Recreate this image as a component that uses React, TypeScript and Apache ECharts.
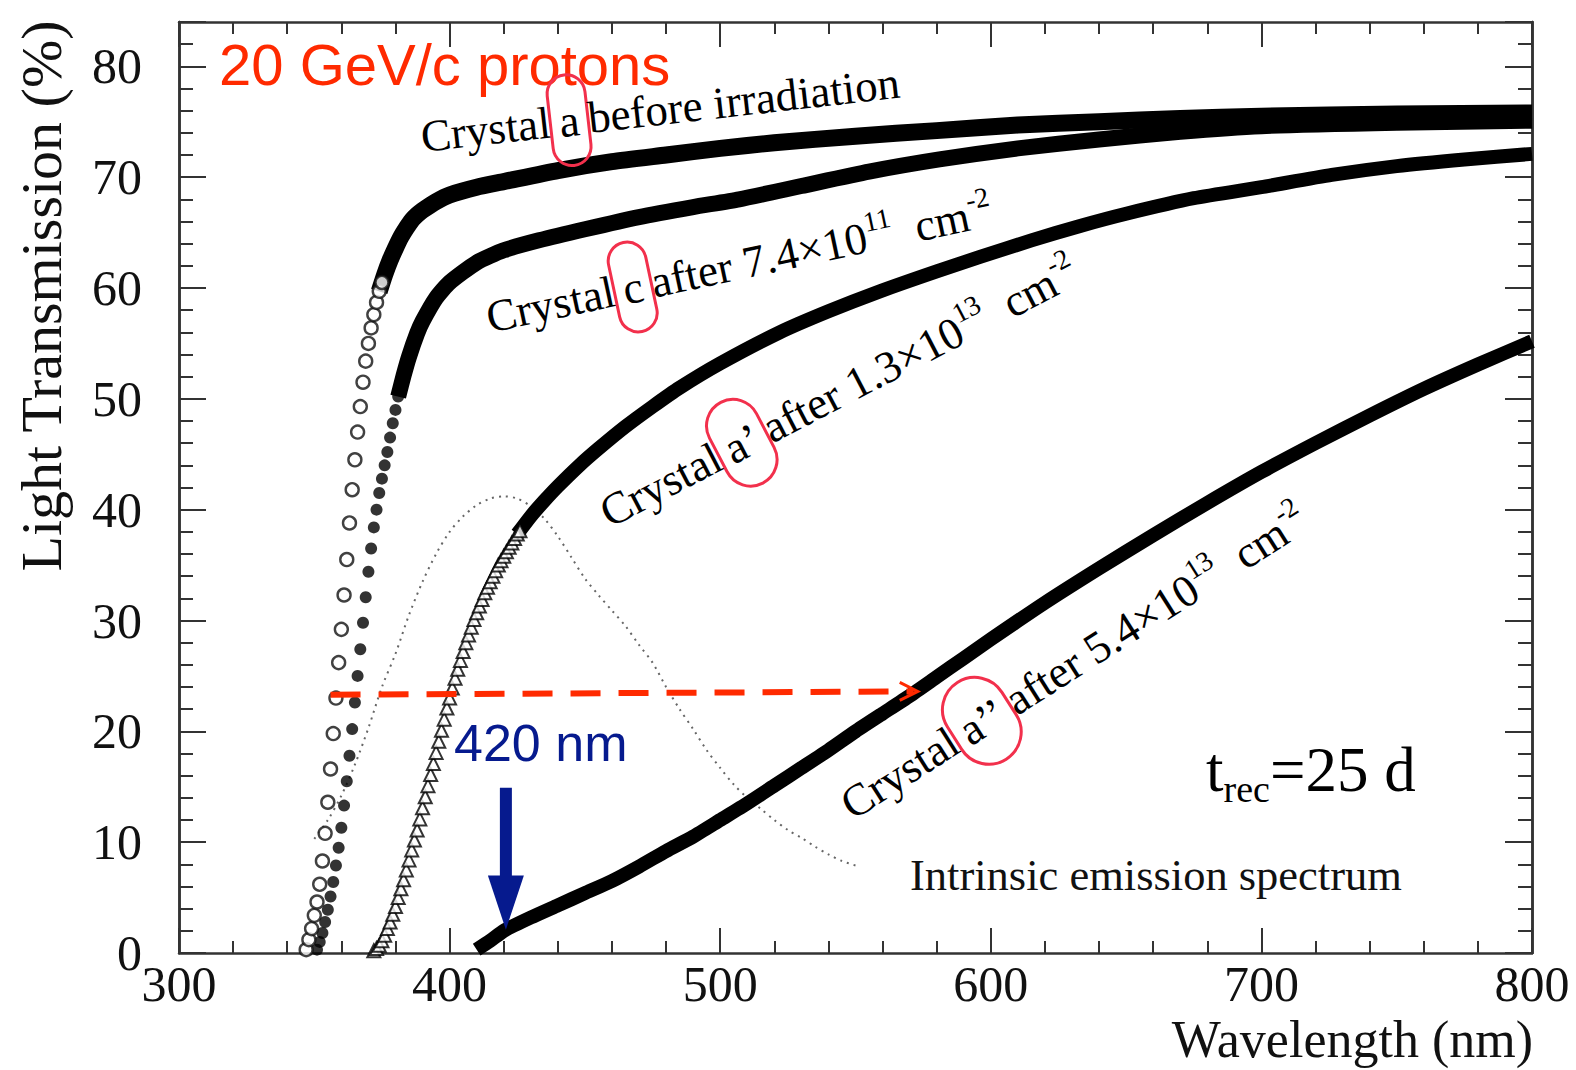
import React, { useEffect, useRef } from "react";
import * as echarts from "echarts";

const SERIF = '"Liberation Serif", "Times New Roman", serif';
const SANS = '"Liberation Sans", Arial, sans-serif';

// ---- axes ----
const xMin = 300;
const xMax = 800;
const xStep = 100;
const yMin = 0;
const yMax = 84;
const yStep = 10;
const yMinorStep = 2;

// ---- Crystal a before irradiation (open circles) ----
const crystalA_rise: [number, number][] = [
  [347, 0.3], [348, 1.2], [349, 2.2], [350, 3.4], [351, 4.6], [352, 6.2], [353, 8.3], [354, 10.8],
  [355, 13.6], [356, 16.6], [357, 19.8], [358, 23.0], [359, 26.2], [360, 29.2], [361, 32.3], [362, 35.5],
  [363, 38.8], [364, 41.8], [365, 44.5], [366, 47.0], [367, 49.3], [368, 51.5], [369, 53.4], [370, 55.0],
  [371, 56.4], [372, 57.6], [373, 58.7], [374, 59.7], [375, 60.5],
];
const crystalA_band: [number, number][] = [
  [374, 59.7], [376, 61.2], [378, 62.5], [380, 63.6], [382, 64.6], [384, 65.4], [386, 66.1], [388, 66.6],
  [390, 67.0], [395, 67.8], [400, 68.4], [410, 69.1], [420, 69.6], [440, 70.6], [460, 71.4], [480, 72.0],
  [500, 72.6], [520, 73.1], [550, 73.7], [580, 74.2], [610, 74.7], [640, 75.0], [670, 75.3], [700, 75.5],
  [750, 75.7], [800, 75.8],
];

// ---- Crystal c after 7.4e11 (filled circles) ----
const crystalC_rise: [number, number][] = [
  [351, 0.3], [352, 1.0], [353, 1.8], [354, 2.8], [355, 3.9], [356, 5.1], [357, 6.4], [358, 7.9],
  [359, 9.5], [360, 11.3], [361, 13.3], [362, 15.5], [363, 17.8], [364, 20.2], [365, 22.6], [366, 25.0],
  [367, 27.4], [368, 29.8], [369, 32.1], [370, 34.4], [371, 36.5], [372, 38.4], [373, 40.0], [374, 41.5],
  [375, 42.8], [376, 44.0], [377, 45.2], [378, 46.5], [379, 47.8], [380, 49.0], [381, 50.2], [382, 51.2],
];
const crystalC_band: [number, number][] = [
  [381, 50.2], [383, 52.1], [385, 53.8], [388, 55.9], [390, 57.0], [395, 59.1], [400, 60.5], [410, 62.3],
  [420, 63.4], [433, 64.3], [450, 65.3], [470, 66.4], [490, 67.3], [507, 68.0], [530, 69.2], [555, 70.5],
  [581, 71.6], [610, 72.6], [640, 73.4], [670, 74.1], [700, 74.6], [750, 74.9], [800, 75.1],
];

// ---- Crystal a' after 1.3e13 (open triangles) ----
const crystalA1_rise: [number, number][] = [
  [372, 0.2], [373, 0.4], [374, 0.7], [375, 1.1], [376, 1.6], [377, 2.2], [378, 2.8], [379, 3.5],
  [380, 4.2], [381, 5.0], [382, 5.8], [383, 6.6], [384, 7.5], [385, 8.4], [386, 9.3], [387, 10.2],
  [388, 11.1], [389, 12.1], [390, 13.1], [391, 14.1], [392, 15.1], [393, 16.1], [394, 17.1], [395, 18.1],
  [396, 19.1], [397, 20.1], [398, 21.1], [399, 22.1], [400, 23.0], [401, 23.9], [402, 24.8], [403, 25.6],
  [404, 26.4], [405, 27.2], [406, 28.0], [407, 28.7], [408, 29.4], [409, 30.1], [410, 30.7], [411, 31.3],
  [412, 31.9], [413, 32.5], [414, 33.0], [415, 33.5], [416, 34.0], [417, 34.5], [418, 35.0], [419, 35.4],
  [420, 35.8], [421, 36.2], [422, 36.6], [423, 37.0], [424, 37.4], [425, 37.8], [426, 38.1],
];
const crystalA1_band: [number, number][] = [
  [425, 37.8], [430, 39.4], [435, 40.8], [440, 42.1], [448, 44.0], [455, 45.5], [465, 47.5], [475, 49.3],
  [485, 51.0], [500, 53.2], [522, 56.0], [540, 57.9], [559, 59.7], [580, 61.5], [596, 62.8], [615, 64.3],
  [633, 65.6], [650, 66.7], [675, 68.1], [700, 69.1], [726, 70.2], [750, 71.0], [775, 71.6], [800, 72.1],
];

// ---- Crystal a'' after 5.4e13 ----
const crystalA2_band: [number, number][] = [
  [410, 0.3], [415, 1.1], [420, 2.0], [430, 3.2], [440, 4.3], [450, 5.4], [460, 6.5], [470, 7.8],
  [480, 9.2], [490, 10.5], [500, 12.0], [510, 13.5], [520, 15.1], [530, 16.7], [540, 18.3], [550, 20.0],
  [560, 21.6], [570, 23.2], [580, 24.9], [590, 26.6], [600, 28.3], [620, 31.6], [640, 34.7], [660, 37.7],
  [680, 40.6], [700, 43.4], [720, 46.0], [740, 48.5], [760, 50.9], [780, 53.1], [800, 55.2],
];

// ---- Intrinsic emission spectrum ----
const emission: [number, number][] = [
  [350, 10.3], [355, 12.0], [360, 14.2], [365, 17.0], [370, 20.3], [375, 24.0], [380, 27.0], [385, 30.5],
  [390, 33.5], [395, 36.0], [400, 38.0], [405, 39.4], [410, 40.4], [415, 41.0], [420, 41.2], [425, 41.0],
  [430, 40.3], [435, 39.2], [440, 37.6], [445, 35.7], [450, 33.8], [455, 32.3], [460, 30.9], [465, 29.5],
  [470, 27.8], [475, 26.2], [480, 24.0], [485, 22.0], [490, 20.2], [495, 18.3], [500, 16.7], [505, 15.2],
  [510, 14.0], [515, 13.0], [520, 12.0], [525, 11.1], [530, 10.4], [535, 9.6], [540, 8.9], [545, 8.3],
  [550, 7.9],
];

// ---- annotation anchors (data coordinates) ----
const dashFrom: [number, number] = [356, 23.3];
const dashTo: [number, number] = [573, 23.6];
const blueArrowTop: [number, number] = [420.8, 14.9];
const blueArrowHeadBase: [number, number] = [420.8, 7.0];
const blueArrowTip: [number, number] = [420.8, 2.1];

const INK = "#111";
const RED = "#ff2a00";
const ELLIPSE = "#f2304c";
const BLUE = "#061a8e";

export default function App() {
  const ref = useRef<HTMLDivElement>(null);

  useEffect(() => {
    const chart = echarts.init(ref.current!, null, { renderer: "svg" });
    const axisLine = { show: true, onZero: false, lineStyle: { color: "#333", width: 2.5 } };
    const tickLine = { color: "#333", width: 2 };

    const xAxis = (position: string, showLabel: boolean) => ({
      type: "value",
      position,
      min: xMin,
      max: xMax,
      interval: xStep,
      axisLine,
      axisTick: { show: true, inside: true, length: 25, lineStyle: tickLine },
      minorTick: { show: true, splitNumber: 5, length: 12, lineStyle: tickLine },
      axisLabel: { show: showLabel, fontFamily: SERIF, fontSize: 50, color: INK, margin: 6 },
      splitLine: { show: false },
      minorSplitLine: { show: false },
    });
    const yAxis = (position: string, interval: number, len: number, showLabel: boolean) => ({
      type: "value",
      position,
      min: yMin,
      max: yMax,
      interval,
      axisLine,
      axisTick: { show: true, inside: true, length: len, lineStyle: tickLine },
      axisLabel: {
        show: showLabel,
        fontFamily: SERIF,
        fontSize: 50,
        color: INK,
        margin: 37,
        padding: [8, 0, 0, 0],
        formatter: (v: number) => (v % yStep === 0 && v <= 80 ? String(v) : ""),
      },
      splitLine: { show: false },
    });

    const band = (name: string, data: [number, number][], width: number) => ({
      name,
      type: "line",
      data,
      showSymbol: false,
      smooth: 0.2,
      lineStyle: { color: "#000", width, cap: "butt", join: "round" },
      xAxisIndex: 0,
      yAxisIndex: 0,
      z: 3,
    });

    chart.setOption({
      animation: false,
      backgroundColor: "#fff",
      grid: { left: 179, right: 44, top: 22, bottom: 117, containLabel: false },
      xAxis: [xAxis("bottom", true), xAxis("top", false)],
      yAxis: [
        yAxis("left", yStep, 27, true),
        yAxis("left", yMinorStep, 14, false),
        yAxis("right", yStep, 27, false),
        yAxis("right", yMinorStep, 14, false),
      ],
      series: [
        {
          name: "Intrinsic emission spectrum",
          type: "line",
          data: emission,
          showSymbol: false,
          smooth: 0.3,
          lineStyle: { color: "#666", width: 2, type: [2, 5] },
          z: 2,
        },
        band("Crystal a'' after 5.4e13", crystalA2_band, 14),
        band("Crystal a' after 1.3e13", crystalA1_band, 14),
        {
          name: "Crystal a' rise",
          type: "scatter",
          data: crystalA1_rise,
          symbol: "triangle",
          symbolSize: 13,
          itemStyle: { color: "#fff", borderColor: "#000", borderWidth: 2 },
          z: 4,
        },
        band("Crystal c after 7.4e11", crystalC_band, 16),
        {
          name: "Crystal c rise",
          type: "scatter",
          data: crystalC_rise,
          symbol: "circle",
          symbolSize: 12,
          itemStyle: { color: "#000" },
          z: 4,
        },
        band("Crystal a before irradiation", crystalA_band, 17),
        {
          name: "Crystal a rise",
          type: "scatter",
          data: crystalA_rise,
          symbol: "circle",
          symbolSize: 13,
          itemStyle: { color: "#fff", borderColor: "#111", borderWidth: 2.4 },
          z: 4,
        },
      ],
    });

    const px = (p: [number, number]) =>
      chart.convertToPixel({ xAxisIndex: 0, yAxisIndex: 0 }, p) as number[];

    const rich = {
      n: { fontFamily: SERIF, fontSize: 45, color: INK, verticalAlign: "middle" },
      e: {
        fontFamily: SERIF,
        fontSize: 45,
        color: INK,
        verticalAlign: "middle",
        borderColor: ELLIPSE,
        borderWidth: 3,
        borderRadius: 40,
        padding: [24, 9, 22, 9],
      },
      s: { fontFamily: SERIF, fontSize: 28, color: INK, verticalAlign: "middle", padding: [0, 0, 30, 0] },
    };
    const deg = (d: number) => (d * Math.PI) / 180;

    const d0 = px(dashFrom);
    const d1 = px(dashTo);
    const bt = px(blueArrowTop);
    const bb = px(blueArrowHeadBase);
    const tip = px(blueArrowTip);

    chart.setOption({
      graphic: [
        {
          type: "text",
          x: 219,
          y: 64,
          style: { text: "20 GeV/c protons", fontFamily: SANS, fontSize: 58, fill: RED, align: "left", verticalAlign: "middle" },
          z: 10,
        },
        {
          type: "text",
          x: 421,
          y: 137,
          rotation: deg(6.5),
          style: { text: "{n|Crystal}{e|a}{n|before irradiation}", rich, align: "left", verticalAlign: "middle" },
          z: 10,
        },
        {
          type: "text",
          x: 487,
          y: 318,
          rotation: deg(12),
          style: { text: "{n|Crystal}{e|c}{n|after 7.4×10}{s|11}{n|  cm}{s|-2}", rich, align: "left", verticalAlign: "middle" },
          z: 10,
        },
        {
          type: "text",
          x: 603,
          y: 515,
          rotation: deg(27.5),
          style: { text: "{n|Crystal}{e|a’}{n|after 1.3×10}{s|13}{n|  cm}{s|-2}", rich, align: "left", verticalAlign: "middle" },
          z: 10,
        },
        {
          type: "text",
          x: 845,
          y: 808,
          rotation: deg(32.5),
          style: { text: "{n|Crystal}{e|a’’}{n|after 5.4×10}{s|13}{n|  cm}{s|-2}", rich, align: "left", verticalAlign: "middle" },
          z: 10,
        },
        {
          type: "text",
          x: 1206,
          y: 770,
          style: {
            text: "{t|t}{b|rec}{t|=25 d}",
            rich: {
              t: { fontFamily: SERIF, fontSize: 63, color: INK, verticalAlign: "middle" },
              b: { fontFamily: SERIF, fontSize: 38, color: INK, verticalAlign: "middle", padding: [38, 0, 0, 0] },
            },
            align: "left",
            verticalAlign: "middle",
          },
          z: 10,
        },
        {
          type: "text",
          x: 910,
          y: 875,
          style: { text: "Intrinsic emission spectrum", fontFamily: SERIF, fontSize: 44.5, fill: INK, align: "left", verticalAlign: "middle" },
          z: 10,
        },
        {
          type: "text",
          x: 454,
          y: 743,
          style: { text: "420 nm", fontFamily: SANS, fontSize: 52, fill: BLUE, align: "left", verticalAlign: "middle" },
          z: 10,
        },
        {
          type: "text",
          x: 41,
          y: 296,
          rotation: Math.PI / 2,
          style: { text: "Light Transmission (%)", fontFamily: SERIF, fontSize: 58, fill: INK, align: "center", verticalAlign: "middle" },
          z: 10,
        },
        {
          type: "text",
          x: 1533,
          y: 1039,
          style: {
            text: "Wavelength (nm)",
            fontFamily: SERIF,
            fontSize: 52,
            lineHeight: 40,
            fill: INK,
            align: "right",
            verticalAlign: "middle",
          },
          z: 10,
        },
        // red dashed arrow
        {
          type: "line",
          shape: { x1: d0[0], y1: d0[1], x2: d1[0] - 4, y2: d1[1] },
          style: { stroke: RED, lineWidth: 6, lineDash: [30, 18] },
          z: 11,
        },
        {
          type: "polyline",
          shape: {
            points: [
              [d1[0] - 18, d1[1] - 9],
              [d1[0], d1[1]],
              [d1[0] - 18, d1[1] + 9],
            ],
          },
          style: { stroke: RED, lineWidth: 3, fill: "none" },
          z: 11,
        },
        // blue arrow
        {
          type: "rect",
          shape: { x: bt[0] - 6, y: bt[1], width: 12, height: bb[1] - bt[1] + 1 },
          style: { fill: BLUE },
          z: 11,
        },
        {
          type: "polygon",
          shape: {
            points: [
              [bb[0] - 18, bb[1]],
              [bb[0] + 18, bb[1]],
              [tip[0], tip[1]],
            ],
          },
          style: { fill: BLUE },
          z: 11,
        },
      ],
    });

    return () => chart.dispose();
  }, []);

  return (
    <div
      ref={ref}
      style={{ position: "absolute", left: 0, top: 0, width: 1576, height: 1070, background: "#fff" }}
    />
  );
}
